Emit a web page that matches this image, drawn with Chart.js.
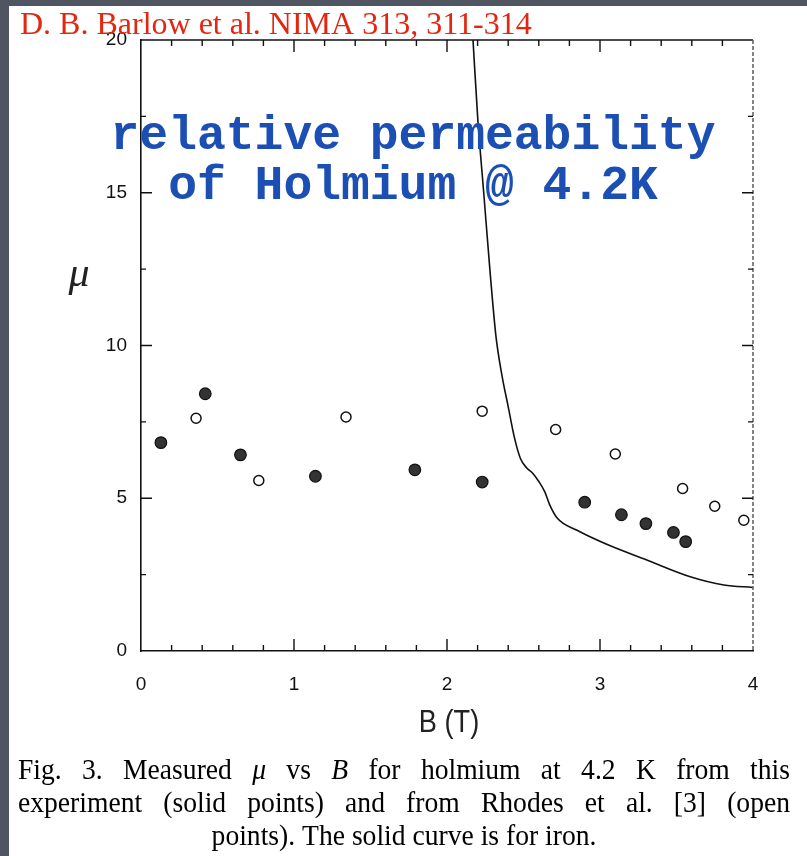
<!DOCTYPE html>
<html>
<head>
<meta charset="utf-8">
<script src="https://cdn.jsdelivr.net/npm/chart.js@4.4.1/dist/chart.umd.min.js"></script>
<style>
  html, body { margin: 0; padding: 0; }
  body { width: 807px; height: 856px; background: #4f5561; position: relative; overflow: hidden; }
  #sheet { position: absolute; left: 9px; top: 6px; width: 798px; height: 850px; background: #fff; }
</style>
</head>
<body>
<div id="sheet"><canvas id="muChart" width="798" height="850"></canvas></div>
<script>
// holmium, this experiment (solid points)
var solidB  = [0.13, 0.42, 0.65, 1.14, 1.79, 2.23, 2.90, 3.14, 3.30, 3.48, 3.56];
var solidMu = [6.82, 8.42, 6.42, 5.72, 5.93, 5.53, 4.87, 4.46, 4.17, 3.88, 3.58];

// holmium, Rhodes et al. (open points)
var openB  = [0.36, 0.77, 1.34, 2.23, 2.71, 3.10, 3.54, 3.75, 3.94];
var openMu = [7.62, 5.58, 7.66, 7.85, 7.25, 6.45, 5.32, 4.74, 4.28];

// iron curve
var ironB  = [2.17, 2.20, 2.24, 2.28, 2.32, 2.36, 2.40, 2.44, 2.48, 2.52, 2.56, 2.60, 2.64, 2.67, 2.72, 2.85, 3.04, 3.31, 3.59, 3.81, 4.00];
var ironMu = [20.0, 17.5, 15.0, 12.5, 10.3, 9.0, 8.0, 7.0, 6.3, 6.0, 5.82, 5.55, 5.2, 4.8, 4.35, 3.95, 3.5, 2.97, 2.43, 2.16, 2.08];

var xTicks = [0, 1, 2, 3, 4];
var yTicks = [0, 5, 10, 15, 20];

var caption = [
  'Fig. 3. Measured μ vs B for holmium at 4.2 K from this',
  'experiment (solid points) and from Rhodes et al. [3] (open',
  'points). The solid curve is for iron.'
];
var italicWords = ['μ', 'B'];

function pairs(xs, ys) {
  return xs.map(function (x, i) { return { x: x, y: ys[i] }; });
}

// text squeezed sideways, the scanned caption is narrow and tall
function narrowText(ctx, txt, x, y, sx) {
  ctx.save();
  ctx.translate(x, y);
  ctx.scale(sx, 1);
  ctx.fillText(txt, 0, 0);
  ctx.restore();
}

// frame, inward ticks and all the loose text
var decor = {
  id: 'decor',
  afterDraw: function (chart) {
    var ctx = chart.ctx;
    var a = chart.chartArea;
    var xs = chart.scales.x, ys = chart.scales.y;
    ctx.save();

    // top border solid, right border broken like the scan
    ctx.strokeStyle = '#111';
    ctx.lineWidth = 1.6;
    ctx.beginPath();
    ctx.moveTo(a.left, a.top); ctx.lineTo(a.right, a.top);
    ctx.stroke();
    ctx.strokeStyle = '#666';
    ctx.setLineDash([4, 2]);
    ctx.beginPath();
    ctx.moveTo(a.right, a.top); ctx.lineTo(a.right, a.bottom);
    ctx.stroke();
    ctx.setLineDash([]);

    // ticks on x every 0.2, longer on whole numbers
    ctx.strokeStyle = '#111';
    ctx.lineWidth = 1.4;
    ctx.beginPath();
    for (var i = 1; i < 20; i++) {
      var v = i * 0.2;
      var px = xs.getPixelForValue(v);
      var len = (i % 5 === 0) ? 12 : 6;
      ctx.moveTo(px, a.bottom); ctx.lineTo(px, a.bottom - len);
      ctx.moveTo(px, a.top); ctx.lineTo(px, a.top + len);
    }
    // ticks on y every 2.5
    for (var j = 1; j < 8; j++) {
      var w = j * 2.5;
      var py = ys.getPixelForValue(w);
      var l2 = (j % 2 === 0) ? 11 : 5;
      ctx.moveTo(a.left, py); ctx.lineTo(a.left + l2, py);
      ctx.moveTo(a.right, py); ctx.lineTo(a.right - l2, py);
    }
    ctx.stroke();

    // axis titles
    ctx.fillStyle = '#222';
    ctx.textAlign = 'center';
    ctx.textBaseline = 'alphabetic';
    ctx.font = '32px "Liberation Sans", sans-serif';
    narrowText(ctx, 'B (T)', 440, 726, 0.85);
    ctx.font = 'italic 42px "Liberation Serif", serif';
    ctx.fillText('μ', 70, 280);

    // blue overlay title
    ctx.fillStyle = '#1c4fb4';
    ctx.font = 'bold 48px "Liberation Mono", monospace';
    ctx.fillText('relative permeability', 404, 143);
    ctx.fillText('of Holmium @ 4.2K', 404, 193);

    // reference line in red
    ctx.fillStyle = '#e2260f';
    ctx.textAlign = 'left';
    ctx.font = '32px "Liberation Serif", serif';
    ctx.fillText('D. B. Barlow et al. NIMA 313, 311-314', 11, 28);

    // caption, first two lines justified
    var sx = 0.92;
    var capLeft = 9, capRight = 781;
    var base = [773, 806, 839];
    ctx.fillStyle = '#000';
    for (var k = 0; k < caption.length; k++) {
      var words = caption[k].split(' ');
      var fonts = words.map(function (wd) {
        return (italicWords.indexOf(wd) >= 0 ? 'italic ' : '') + '30px "Liberation Serif", serif';
      });
      var widths = words.map(function (wd, n) { ctx.font = fonts[n]; return ctx.measureText(wd).width * sx; });
      var total = widths.reduce(function (s, q) { return s + q; }, 0);
      var gap, x0;
      if (k < 2) {
        gap = (capRight - capLeft - total) / (words.length - 1);
        x0 = capLeft;
      } else {
        ctx.font = fonts[0];
        gap = ctx.measureText(' ').width * sx;
        x0 = 395 - (total + gap * (words.length - 1)) / 2;
      }
      for (var n = 0; n < words.length; n++) {
        ctx.font = fonts[n];
        narrowText(ctx, words[n], x0, base[k], sx);
        x0 += widths[n] + gap;
      }
    }
    ctx.restore();
  }
};

var ctx = document.getElementById('muChart');
var muChart = new Chart(ctx, {
  type: 'scatter',
  data: {
    datasets: [
      {
        label: 'iron',
        data: pairs(ironB, ironMu),
        showLine: true,
        borderColor: '#111',
        borderWidth: 1.6,
        pointRadius: 0,
        cubicInterpolationMode: 'monotone'
      },
      {
        label: 'this experiment',
        data: pairs(solidB, solidMu),
        pointRadius: 5.8,
        pointBackgroundColor: '#333',
        pointBorderColor: '#111',
        pointBorderWidth: 1.2
      },
      {
        label: 'Rhodes et al.',
        data: pairs(openB, openMu),
        pointRadius: 5,
        pointBackgroundColor: '#fff',
        pointBorderColor: '#111',
        pointBorderWidth: 1.5
      }
    ]
  },
  options: {
    responsive: false,
    devicePixelRatio: 1,
    animation: false,
    layout: { padding: { left: 0, right: 54, top: 34, bottom: 0 } },
    plugins: {
      legend: { display: false },
      tooltip: { enabled: false }
    },
    scales: {
      x: {
        type: 'linear',
        min: 0,
        max: 4,
        afterBuildTicks: function (s) { s.ticks = xTicks.map(function (v) { return { value: v }; }); },
        afterFit: function (s) { s.height = 205; },
        grid: { display: false, drawTicks: false },
        border: { display: true, color: '#111', width: 1.6 },
        ticks: {
          padding: 22,
          color: '#111',
          font: { family: '"Liberation Sans", sans-serif', size: 19 }
        }
      },
      y: {
        type: 'linear',
        min: 0,
        max: 20,
        afterBuildTicks: function (s) { s.ticks = yTicks.map(function (v) { return { value: v }; }); },
        afterFit: function (s) { s.width = 132; },
        grid: { display: false, drawTicks: false },
        border: { display: true, color: '#111', width: 1.6 },
        ticks: {
          padding: 14,
          color: '#111',
          font: { family: '"Liberation Sans", sans-serif', size: 19 }
        }
      }
    }
  },
  plugins: [decor]
});
</script>
</body>
</html>
